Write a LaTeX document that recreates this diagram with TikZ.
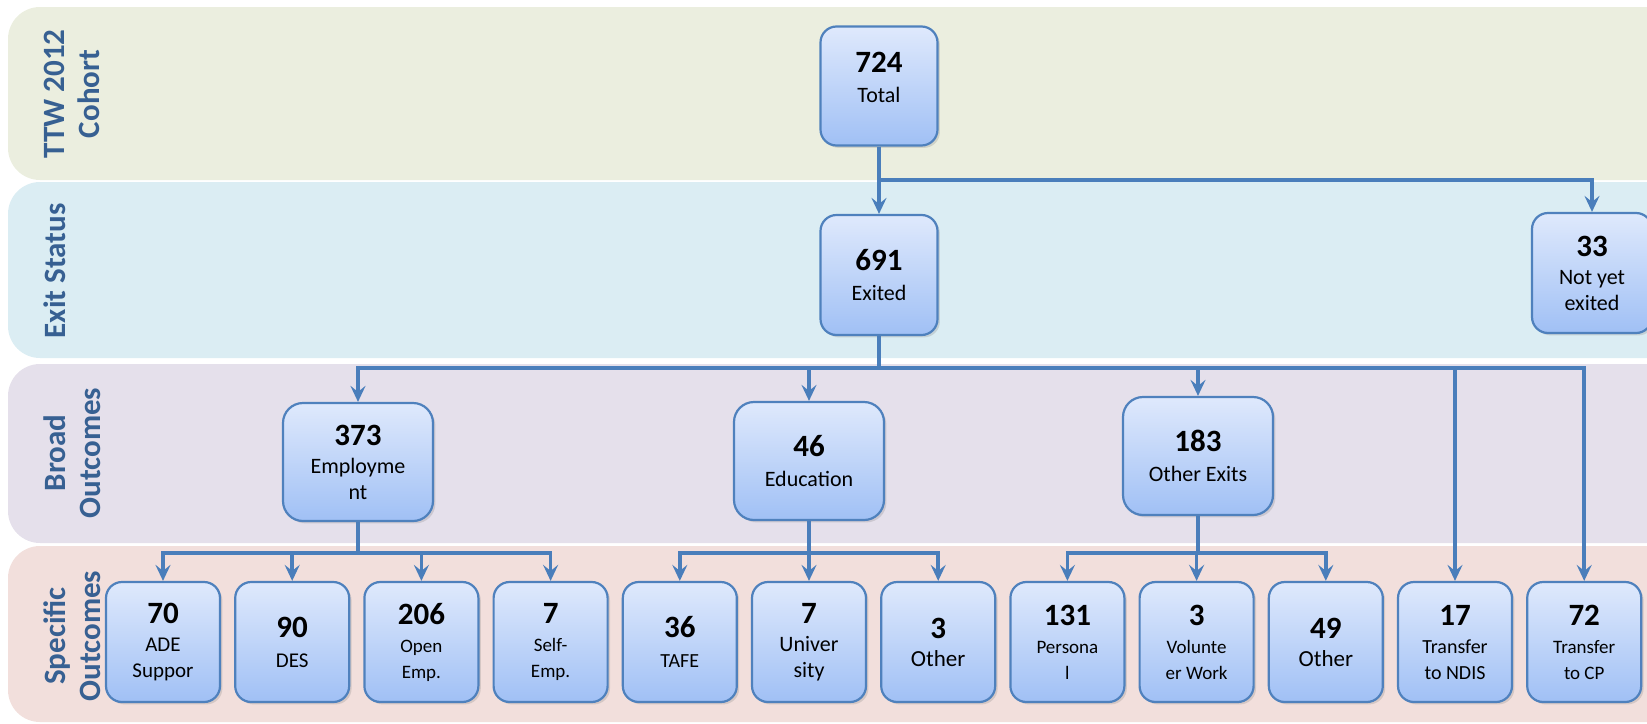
\documentclass[tikz,border=0pt]{standalone}
\usepackage{fontspec}
\setmainfont{Carlito}
\usetikzlibrary{positioning, arrows.meta, shadows}
\definecolor{bandgreen}{HTML}{EBEEDF}
\definecolor{bandblue}{HTML}{DBEDF3}
\definecolor{bandlilac}{HTML}{E5E0EB}
\definecolor{bandpink}{HTML}{F2DFDC}
\definecolor{boxline}{HTML}{4F81BD}
\definecolor{boxtop}{HTML}{DFE9FC}
\definecolor{boxbottom}{HTML}{A0C0F5}
\definecolor{flowblue}{HTML}{4A7EBB}
\definecolor{labelblue}{HTML}{376092}
\tikzset{>={Stealth[length=8pt,width=7.5pt,inset=3pt]}, % arrow heads of the connectors
	flow/.style={->, draw=flowblue, line width=1.8pt}, % every connector
	band/.style={rounded corners=16pt}, % the coloured rows
	rowlabel/.style={rotate=90, text=labelblue, align=center,
		font=\fontsize{15.5}{17.5}\selectfont\bfseries},
	box/.style={draw=boxline, line width=1.1pt, rounded corners=8pt,
		top color=boxtop, bottom color=boxbottom, inner sep=2pt, align=center,
		drop shadow={opacity=0.25, shadow xshift=1.2pt, shadow yshift=-1.2pt},
		font=\fontsize{11}{13}\selectfont},
	small/.style={minimum width=57pt, minimum height=60pt}, % bottom row
	broad/.style={minimum width=75pt, minimum height=59pt, rounded corners=10pt},
}
\newcommand{\bignum}[1]{{\fontsize{15.5}{17}\selectfont\bfseries #1}}

\begin{document}
\begin{tikzpicture}[x=0.5pt, y=-0.5pt, node distance=6.5pt]
	\useasboundingbox (0,0) rectangle (1647,723);
	% the four rows
	\fill[bandgreen, band] (8,7) rectangle (1690,180);
	\fill[bandblue, band] (8,182) rectangle (1690,358);
	\fill[bandlilac, band] (8,364) rectangle (1690,543);
	\fill[bandpink, band] (8,546) rectangle (1690,722);
	\node[rowlabel] (cohortlbl) at (72,94) {TTW 2012\\Cohort};
	\node[rowlabel] (exitlbl) at (55,271) {Exit Status};
	\node[rowlabel] (broadlbl) at (72,453) {Broad\\Outcomes};
	\node[rowlabel] (specificlbl) at (72,636) {Specific\\Outcomes};

	% cohort and exit status
	\node[box, minimum width=58.5pt, minimum height=59.5pt] (total) at (879,86) {\bignum{724}\\[2pt] Total\\[-4pt]~};
	\node[box, minimum width=58.5pt, minimum height=60pt] (exited) at (879,275) {\bignum{691}\\[2pt] Exited};
	\node[box, minimum width=60pt, minimum height=60pt] (notyet) at (1592,273) {\bignum{33}\\[1pt] Not yet\\ exited};

	%% broad outcomes
	\node[box, broad] (employ) at (358,462) {\bignum{373}\\[1pt] Employme\\ nt};
	\node[box, broad] (educ) at (809,461) {\bignum{46}\\[2pt] Education};
	\node[box, broad] (othexit) at (1198,456) {\bignum{183}\\[2pt] Other Exits};

	%% specific outcomes, one after the other
	\node[box, small, font=\fontsize{10.5}{13}\selectfont] (ade) at (163,642) {\bignum{70}\\[1pt] ADE\\ Suppor};
	\node[box, small, right=of ade, font=\fontsize{10.5}{13}\selectfont] (des) {\bignum{90}\\[2pt] DES};
	\node[box, small, right=of des, font=\fontsize{9.5}{13}\selectfont] (openemp) {\bignum{206}\\[1pt] Open\\ Emp.};
	\node[box, small, right=of openemp, font=\fontsize{9.5}{13}\selectfont] (selfemp) {\bignum{7}\\[1pt] Self-\\ Emp.};
	\node[box, small, right=of selfemp, font=\fontsize{10}{13}\selectfont] (tafe) {\bignum{36}\\[2pt] TAFE};
	\node[box, small, right=of tafe] (univ) {\bignum{7}\\[1pt] Univer\\ sity};
	\node[box, small, right=of univ, font=\fontsize{11.5}{13}\selectfont] (eduoth) {\bignum{3}\\[1pt] Other};
	\node[box, small, right=of eduoth, font=\fontsize{9.5}{13}\selectfont] (personal) {\bignum{131}\\[1pt] Persona\\ l};
	\node[box, small, right=of personal, font=\fontsize{9.5}{13}\selectfont] (volun) {\bignum{3}\\[1pt] Volunte\\ er Work};
	\node[box, small, right=of volun, font=\fontsize{11.5}{13}\selectfont] (exitoth) {\bignum{49}\\[1pt] Other};
	\node[box, small, right=of exitoth, font=\fontsize{10}{13}\selectfont] (ndis) {\bignum{17}\\[1pt] Transfer\\ to NDIS};
	\node[box, small, right=of ndis, font=\fontsize{9.5}{13}\selectfont] (cp) {\bignum{72}\\[1pt] Transfer\\ to CP};

	% where the connectors branch
	\coordinate (topbus) at (879,180);
	\coordinate (exitbus) at (879,368);
	\coordinate (empbus) at (358,553);
	\coordinate (edubus) at (809,553);
	\coordinate (othbus) at (1198,553);

	\draw[flow] (total) -- (exited);
	\draw[flow] (total) -- (topbus) -| (notyet);
	%% from the exited
	\draw[flow] (exited) -- (exitbus) -| (employ);
	\draw[flow] (exited) -- (exitbus) -| (educ);
	\draw[flow] (exited) -- (exitbus) -| (othexit);
	\draw[flow] (exited) -- (exitbus) -| (ndis);
	\draw[flow] (exited) -- (exitbus) -| (cp);
	%% employment
	\draw[flow] (employ) -- (empbus) -| (ade);
	\draw[flow] (employ) -- (empbus) -| (des);
	\draw[flow] (employ) -- (empbus) -| (openemp);
	\draw[flow] (employ) -- (empbus) -| (selfemp);
	%% education
	\draw[flow] (educ) -- (edubus) -| (tafe);
	\draw[flow] (educ) -- (edubus) -| (univ);
	\draw[flow] (educ) -- (edubus) -| (eduoth);
	%% other exits
	\draw[flow] (othexit) -- (othbus) -| (personal);
	\draw[flow] (othexit) -- (othbus) -| (volun);
	\draw[flow] (othexit) -- (othbus) -| (exitoth);
\end{tikzpicture}
\end{document}
